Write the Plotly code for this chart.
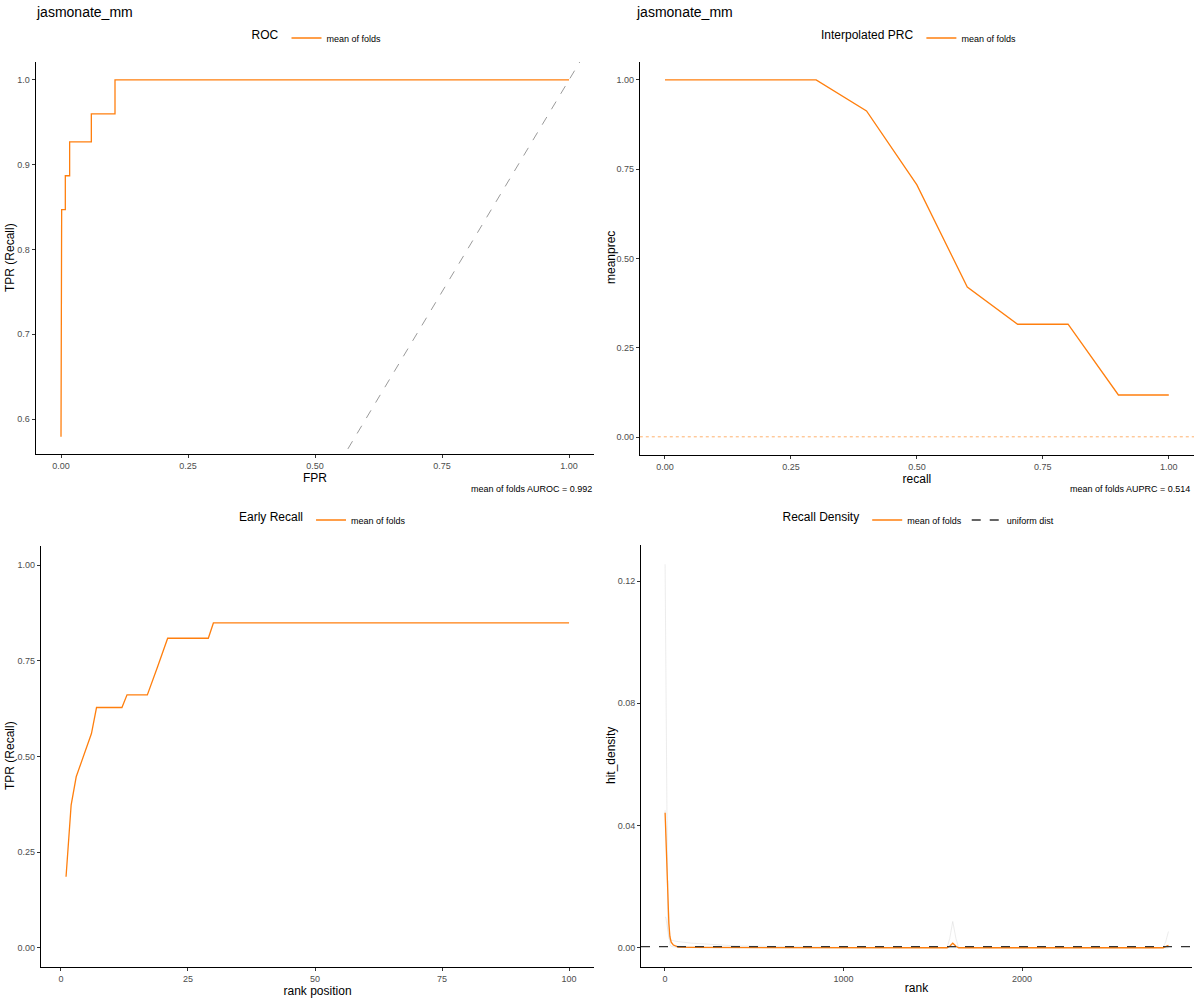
# Vier Panels: ROC, PRC, Early Recall, Recall Density
import plotly.graph_objects as go

# ---- Daten ----
titel = "jasmonate_mm"

roc_fpr = [0.0, 0.0, 0.0013, 0.0085, 0.0085, 0.017, 0.017, 0.0597, 0.0597, 0.1063, 0.1063, 1.0]
roc_tpr = [0.579, 0.82, 0.847, 0.847, 0.887, 0.887, 0.927, 0.927, 0.960, 0.960, 1.0, 1.0]
diagonale = [0.0, 1.2]
auroc = 0.992

prc_recall = [0.0, 0.1, 0.2, 0.3, 0.4, 0.5, 0.6, 0.7, 0.8, 0.9, 1.0]
prc_prec = [1.0, 1.0, 1.0, 1.0, 0.913, 0.706, 0.42, 0.316, 0.316, 0.118, 0.118]
praevalenz = 0.0009
auprc = 0.514

er_rang = [1, 2, 3, 4, 5, 6, 7, 12, 13, 17, 19, 21, 29, 30, 100]
er_tpr = [0.186, 0.373, 0.447, 0.485, 0.523, 0.56, 0.628, 0.628, 0.661, 0.661, 0.734, 0.809, 0.809, 0.849, 0.849]

dichte_rang = [1, 5, 10, 15, 16, 18, 22, 28, 35, 47, 75, 150, 400, 1000,
               1580, 1595, 1612, 1630, 1645, 2790, 2805, 2820]
dichte_mittel = [0.0442, 0.036, 0.026, 0.0157, 0.0165, 0.0148, 0.008, 0.0037, 0.0018, 0.0009,
                 0.0002, 0.0001, 0.00005, 0.0, 0.0, 0.0005, 0.0015, 0.0005, 0.0, 0.0, 0.0003, 0.00075]
fold_a = [0.1255, 0.085, 0.045, 0.012, 0.008, 0.005, 0.003, 0.0025, 0.0024, 0.0022,
          0.002, 0.0015, 0.0006, 0.0001, 0.0, 0.0, 0.0, 0.0, 0.0, 0.0, 0.0, 0.0]
fold_b = [0.045, 0.04, 0.03, 0.02, 0.022, 0.015, 0.006, 0.001, 0.0005, 0.0003,
          0.0001, 0.0, 0.0, 0.0, 0.0, 0.003, 0.0086, 0.003, 0.0, 0.0, 0.0, 0.0]
fold_c = [0.01, 0.01, 0.008, 0.006, 0.006, 0.005, 0.004, 0.003, 0.002, 0.001,
          0.0005, 0.0002, 0.0001, 0.0, 0.0, 0.0, 0.0, 0.0, 0.0, 0.0, 0.002, 0.0053]
uniform = 1 / 2820

ORANGE = "#FF7F0E"
FONT = "Liberation Sans"

BREITE, HOEHE = 1200, 1000


# Positionen in Bildpixeln -> paper-Koordinaten
def px(x):
    return x / BREITE


def py(y):
    return 1 - y / HOEHE


fig = go.Figure()

# ROC
fig.add_trace(go.Scatter(x=diagonale, y=diagonale, mode="lines", showlegend=False,
                         line=dict(color="#9a9a9a", width=1, dash="dash"), xaxis="x", yaxis="y"))
fig.add_trace(go.Scatter(x=roc_fpr, y=roc_tpr, mode="lines", name="mean of folds",
                         line=dict(color=ORANGE, width=1.3), xaxis="x", yaxis="y", legend="legend"))

# PRC
fig.add_trace(go.Scatter(x=prc_recall, y=prc_prec, mode="lines", name="mean of folds",
                         line=dict(color=ORANGE, width=1.3), xaxis="x2", yaxis="y2", legend="legend2"))

# Early Recall
fig.add_trace(go.Scatter(x=er_rang, y=er_tpr, mode="lines", name="mean of folds",
                         line=dict(color=ORANGE, width=1.3), xaxis="x3", yaxis="y3", legend="legend3"))

# Recall Density: einzelne folds ganz blass
for fold in [fold_a, fold_b, fold_c]:
    fig.add_trace(go.Scatter(x=dichte_rang, y=fold, mode="lines", showlegend=False,
                             line=dict(color="rgba(200,200,200,0.35)", width=1),
                             xaxis="x4", yaxis="y4"))
fig.add_trace(go.Scatter(x=dichte_rang, y=dichte_mittel, mode="lines", name="mean of folds",
                         line=dict(color=ORANGE, width=1.3), xaxis="x4", yaxis="y4", legend="legend4"))

# Referenzlinien
fig.add_shape(type="line", xref="x2 domain", x0=0, x1=1, yref="y2", y0=praevalenz, y1=praevalenz,
              line=dict(color="rgba(255,127,14,0.6)", width=1, dash="dot"))
fig.add_shape(type="line", xref="x4 domain", x0=0, x1=1, yref="y4", y0=uniform, y1=uniform,
              line=dict(color="#333333", width=1.3, dash="dash"),
              showlegend=True, name="uniform dist", legend="legend4")


def achse(domain, titel_text="", standoff=0, **kw):
    d = dict(domain=domain, showline=True, linecolor="black", linewidth=1,
             ticks="outside", ticklen=3, tickcolor="#333333",
             tickfont=dict(size=9, color="#4d4d4d", family=FONT),
             showgrid=False, zeroline=False,
             title=dict(text=titel_text, font=dict(size=12, color="black", family=FONT), standoff=standoff))
    d.update(kw)
    return d


def legende(x, y, titel_text):
    return dict(x=x, y=y, xanchor="center", yanchor="middle", orientation="h",
                title=dict(text=titel_text, side="left", font=dict(size=12, color="black", family=FONT)),
                font=dict(size=9, color="black", family=FONT), bgcolor="rgba(0,0,0,0)")


fig.update_layout(
    width=BREITE, height=HOEHE,
    margin=dict(l=0, r=0, t=0, b=0),
    plot_bgcolor="white", paper_bgcolor="white",
    font=dict(family=FONT),
    xaxis=achse([px(35.6), px(594.4)], "FPR", anchor="y", range=[-0.05, 1.05],
                tickvals=[0, 0.25, 0.5, 0.75, 1.0], tickformat=".2f"),
    yaxis=achse([py(454), py(62)], anchor="x", range=[0.5587, 1.0212],
                tickvals=[0.6, 0.7, 0.8, 0.9, 1.0], tickformat=".1f"),
    xaxis2=achse([px(639.8), px(1194)], "recall", anchor="y2", range=[-0.05, 1.05],
                 tickvals=[0, 0.25, 0.5, 0.75, 1.0], tickformat=".2f"),
    yaxis2=achse([py(455), py(62)], anchor="x2", range=[-0.05, 1.05],
                 tickvals=[0, 0.25, 0.5, 0.75, 1.0], tickformat=".2f"),
    xaxis3=achse([px(40.9), px(594.2)], "rank position", anchor="y3", range=[-3.95, 104.95],
                 tickvals=[0, 25, 50, 75, 100]),
    yaxis3=achse([py(967), py(546)], anchor="x3", range=[-0.05, 1.05],
                 tickvals=[0, 0.25, 0.5, 0.75, 1.0], tickformat=".2f"),
    xaxis4=achse([px(641), px(1192)], "rank", anchor="y4", range=[-134, 2952],
                 tickvals=[0, 1000, 2000], tickformat="d"),
    yaxis4=achse([py(967), py(545)], anchor="x4", range=[-0.0063, 0.1318],
                 tickvals=[0, 0.04, 0.08, 0.12], tickformat=".2f"),
    legend=legende(px(318), py(38), "ROC"),
    legend2=legende(px(920), py(38), "Interpolated PRC"),
    legend3=legende(px(324), py(520), "Early Recall"),
    legend4=legende(px(920), py(520), "Recall Density"),
)

# y-Achsentitel als gedrehte Beschriftungen (genauer platzierbar)
for text, x, y in [("TPR (Recall)", 10, 258), ("meanprec", 611, 258),
                   ("TPR (Recall)", 10, 756), ("hit_density", 611, 756)]:
    fig.add_annotation(text=text, x=px(x), y=py(y), xref="paper", yref="paper",
                       xanchor="center", yanchor="middle", textangle=-90, showarrow=False,
                       font=dict(size=12, color="black", family=FONT))

# Titel und AUC-Beschriftungen
for x in [px(34), px(634)]:
    fig.add_annotation(text=titel, x=x, y=py(12), xref="paper", yref="paper",
                       xanchor="left", yanchor="middle", showarrow=False,
                       font=dict(size=14, color="black", family=FONT))
fig.add_annotation(text="mean of folds AUROC = {}".format(auroc), x=px(594), y=py(489),
                   xref="paper", yref="paper", xanchor="right", yanchor="middle", showarrow=False,
                   font=dict(size=9, color="black", family=FONT))
fig.add_annotation(text="mean of folds AUPRC = {}".format(auprc), x=px(1192), y=py(489),
                   xref="paper", yref="paper", xanchor="right", yanchor="middle", showarrow=False,
                   font=dict(size=9, color="black", family=FONT))

# Standard-Rand der Seite (8px) entfernen, damit die Figur bei 0,0 beginnt
fig.write_html("out.html", config={"displayModeBar": False},
               post_script="document.body.style.margin = '0';")
